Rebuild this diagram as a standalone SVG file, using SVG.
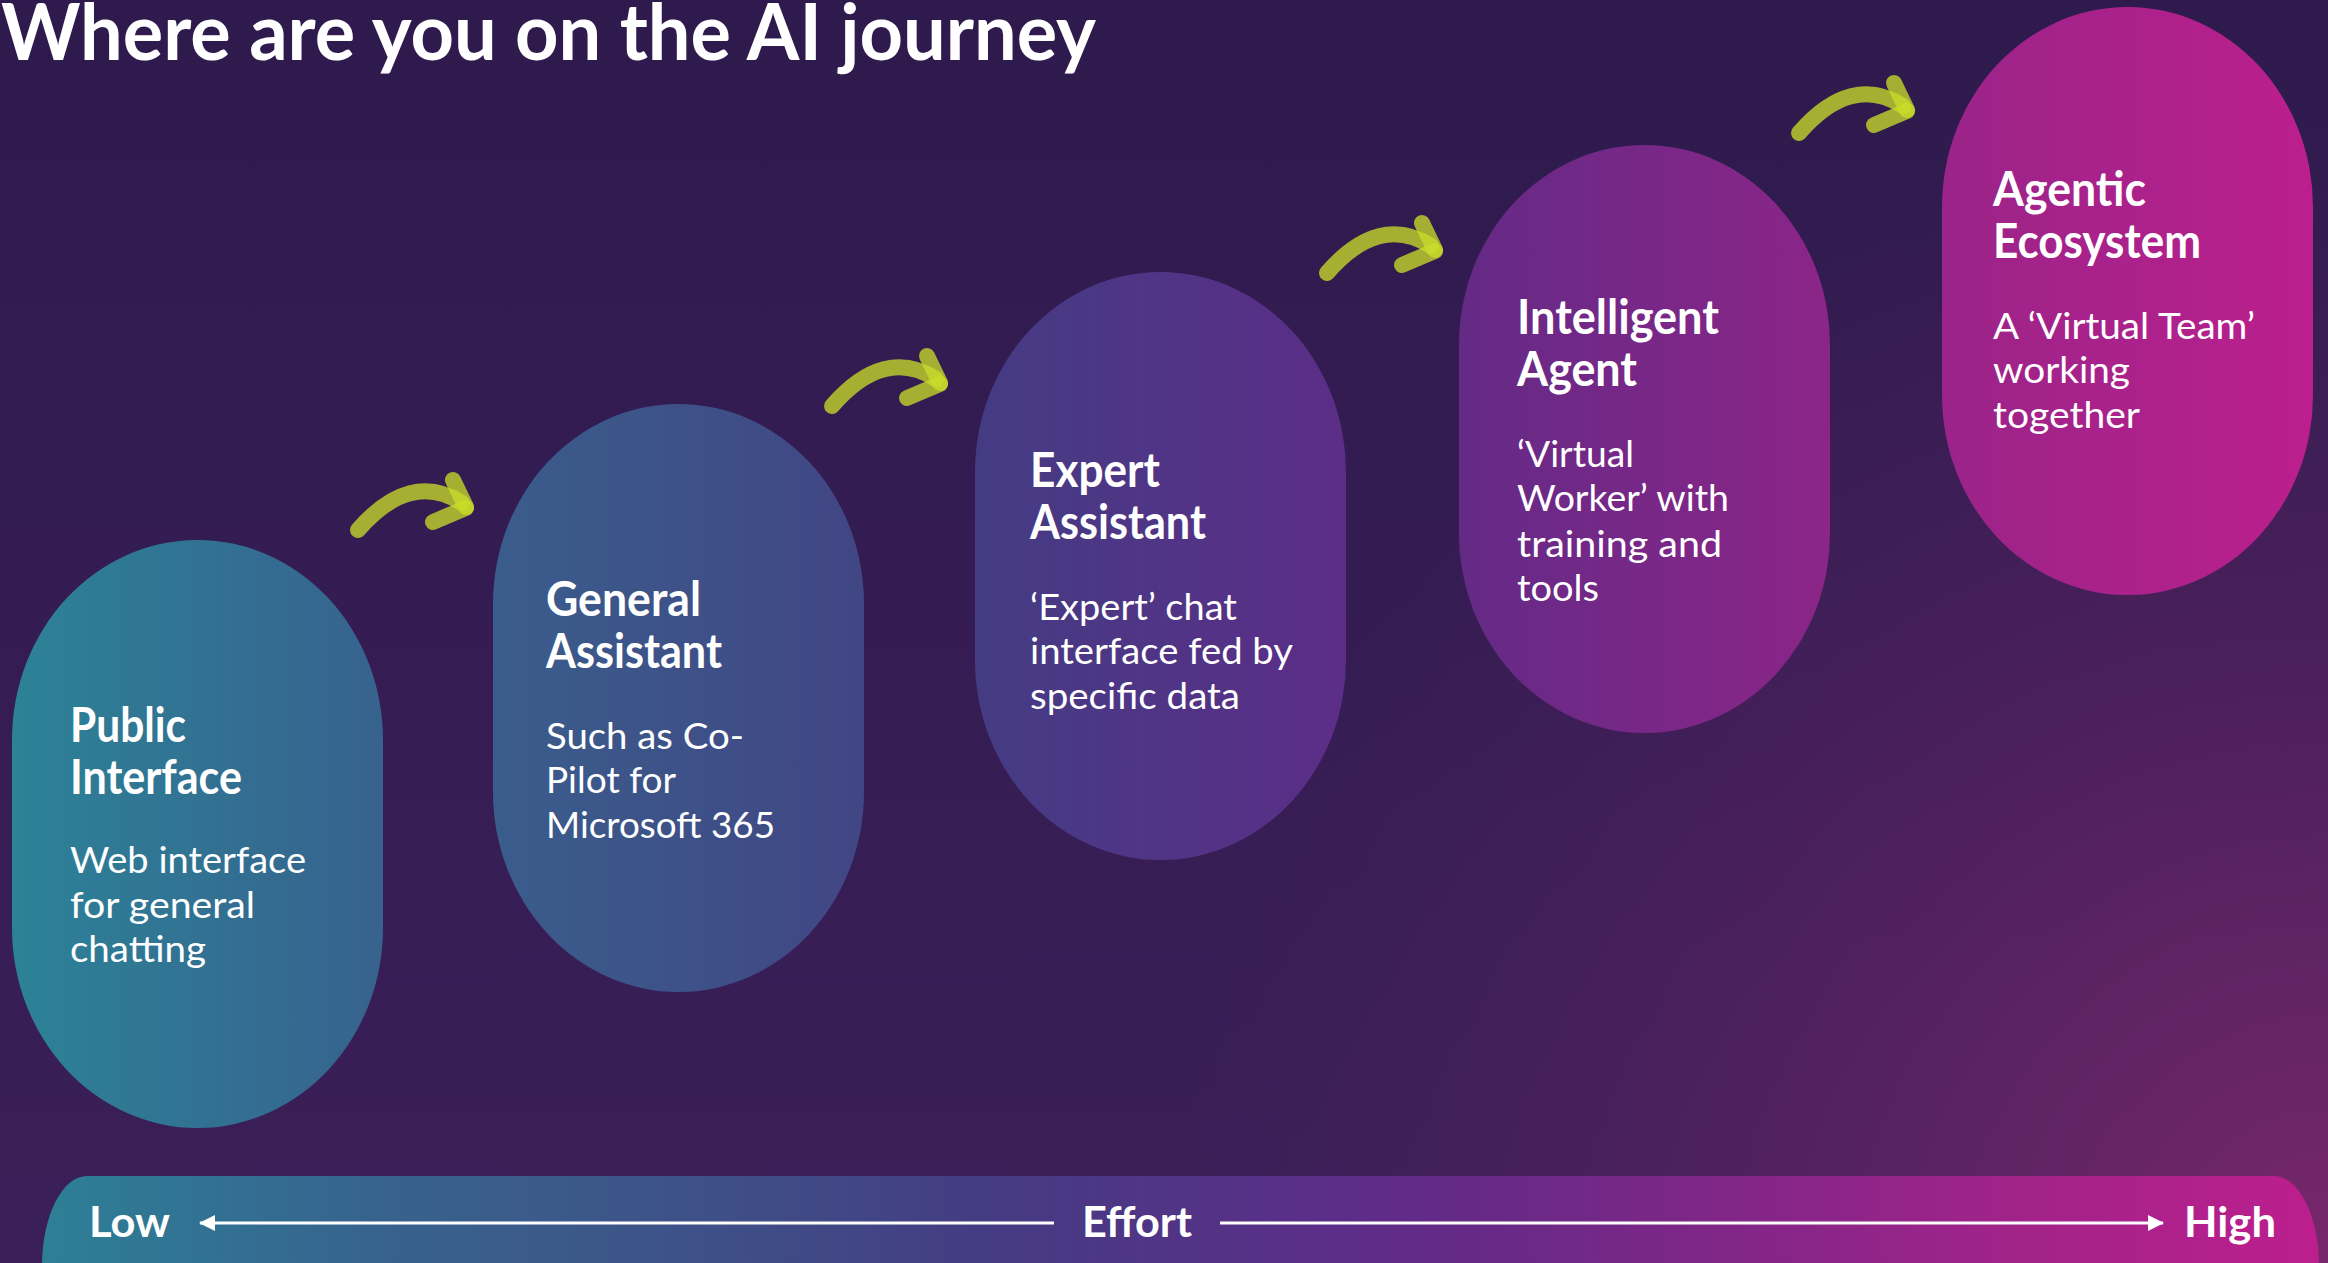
<svg xmlns="http://www.w3.org/2000/svg" width="2328" height="1263" viewBox="0 0 2328 1263">
<defs>
<linearGradient id="bg" x1="0" y1="0" x2="0" y2="1263" gradientUnits="userSpaceOnUse">
<stop offset="0" stop-color="#2e1a4d"/>
<stop offset="1" stop-color="#3b1f58"/>
</linearGradient>
<radialGradient id="glow" cx="2328" cy="1263" r="1150" gradientUnits="userSpaceOnUse">
<stop offset="0" stop-color="#7c286d" stop-opacity="0.95"/>
<stop offset="0.5" stop-color="#6a2466" stop-opacity="0.45"/>
<stop offset="1" stop-color="#5a2262" stop-opacity="0"/>
</radialGradient>
<linearGradient id="spectrum" x1="0" y1="0" x2="2328" y2="0" gradientUnits="userSpaceOnUse">
<stop offset="0.005" stop-color="#2c8297"/>
<stop offset="0.165" stop-color="#37628e"/>
<stop offset="0.212" stop-color="#3a5d8c"/>
<stop offset="0.371" stop-color="#414684"/>
<stop offset="0.419" stop-color="#443c83"/>
<stop offset="0.579" stop-color="#5c2d88"/>
<stop offset="0.627" stop-color="#642a86"/>
<stop offset="0.787" stop-color="#8c2588"/>
<stop offset="0.834" stop-color="#9a2489"/>
<stop offset="0.994" stop-color="#bc1f8d"/>
</linearGradient>
<marker id="ah" viewBox="0 0 16 16" refX="15" refY="8" markerWidth="16" markerHeight="16" markerUnits="userSpaceOnUse" orient="auto">
<path d="M0,0 L16,8 L0,16 Z" fill="#ffffff"/>
</marker>
<style>
.node-shape{fill:url(#spectrum)}
.node-title{font-family:Lato,"Open Sans","Liberation Sans",sans-serif;font-weight:700;font-size:47px;fill:#ffffff}
.node-desc{font-family:Lato,"Open Sans","Liberation Sans",sans-serif;font-weight:400;font-size:36px;fill:#ffffff}
.arrow{fill:none;stroke:#c9dc2a;stroke-opacity:0.77;stroke-width:16;stroke-linecap:round}
.axis-label{font-family:Lato,"Open Sans","Liberation Sans",sans-serif;font-weight:700;font-size:42px;fill:#ffffff}
.axis-line{stroke:#ffffff;stroke-width:3;fill:none}
.title{font-family:Lato,"Open Sans","Liberation Sans",sans-serif;font-weight:700;font-size:79px;fill:#ffffff}
</style>
</defs>

<rect width="2328" height="1263" fill="url(#bg)"/>
<rect width="2328" height="1263" fill="url(#glow)"/>

<text class="title" x="1" y="60" textLength="1095" lengthAdjust="spacingAndGlyphs">Where are you on the AI journey</text>

<g id="connectors">
<g id="arrow-1">
<path class="arrow" d="M358,530 Q410,470 462,503"/>
<path class="arrow" d="M453,480 L466,507"/>
<path class="arrow" d="M433,522 L466,508"/>
</g>
<g id="arrow-2" transform="translate(474,-124)">
<path class="arrow" d="M358,530 Q410,470 462,503"/>
<path class="arrow" d="M453,480 L466,507"/>
<path class="arrow" d="M433,522 L466,508"/>
</g>
<g id="arrow-3" transform="translate(969,-257)">
<path class="arrow" d="M358,530 Q410,470 462,503"/>
<path class="arrow" d="M453,480 L466,507"/>
<path class="arrow" d="M433,522 L466,508"/>
</g>
<g id="arrow-4" transform="translate(1441,-397)">
<path class="arrow" d="M358,530 Q410,470 462,503"/>
<path class="arrow" d="M453,480 L466,507"/>
<path class="arrow" d="M433,522 L466,508"/>
</g>
</g>

<g id="node-public-interface">
<rect class="node-shape" x="12" y="540" width="371" height="588" rx="185.5" ry="200"/>
<text class="node-title" x="70" y="742" textLength="116" lengthAdjust="spacingAndGlyphs">Public</text>
<text class="node-title" x="70" y="794" textLength="172" lengthAdjust="spacingAndGlyphs">Interface</text>
<text class="node-desc" x="70" y="873" textLength="236" lengthAdjust="spacingAndGlyphs">Web interface</text>
<text class="node-desc" x="70" y="918" textLength="185" lengthAdjust="spacingAndGlyphs">for general</text>
<text class="node-desc" x="70" y="962" textLength="136" lengthAdjust="spacingAndGlyphs">chatting</text>
</g>

<g id="node-general-assistant">
<rect class="node-shape" x="493" y="404" width="371" height="588" rx="185.5" ry="200"/>
<text class="node-title" x="546" y="616" textLength="155" lengthAdjust="spacingAndGlyphs">General</text>
<text class="node-title" x="546" y="668" textLength="176" lengthAdjust="spacingAndGlyphs">Assistant</text>
<text class="node-desc" x="546" y="749" textLength="198" lengthAdjust="spacingAndGlyphs">Such as Co-</text>
<text class="node-desc" x="546" y="793" textLength="130" lengthAdjust="spacingAndGlyphs">Pilot for</text>
<text class="node-desc" x="546" y="838" textLength="229" lengthAdjust="spacingAndGlyphs">Microsoft 365</text>
</g>

<g id="node-expert-assistant">
<rect class="node-shape" x="975" y="272" width="371" height="588" rx="185.5" ry="200"/>
<text class="node-title" x="1030" y="487" textLength="130" lengthAdjust="spacingAndGlyphs">Expert</text>
<text class="node-title" x="1030" y="539" textLength="176" lengthAdjust="spacingAndGlyphs">Assistant</text>
<text class="node-desc" x="1030" y="620" textLength="207" lengthAdjust="spacingAndGlyphs">‘Expert’ chat</text>
<text class="node-desc" x="1030" y="664" textLength="263" lengthAdjust="spacingAndGlyphs">interface fed by</text>
<text class="node-desc" x="1030" y="709" textLength="210" lengthAdjust="spacingAndGlyphs">specific data</text>
</g>

<g id="node-intelligent-agent">
<rect class="node-shape" x="1459" y="145" width="371" height="588" rx="185.5" ry="200"/>
<text class="node-title" x="1517" y="334" textLength="202" lengthAdjust="spacingAndGlyphs">Intelligent</text>
<text class="node-title" x="1517" y="386" textLength="120" lengthAdjust="spacingAndGlyphs">Agent</text>
<text class="node-desc" x="1517" y="467" textLength="117" lengthAdjust="spacingAndGlyphs">‘Virtual</text>
<text class="node-desc" x="1517" y="511" textLength="212" lengthAdjust="spacingAndGlyphs">Worker’ with</text>
<text class="node-desc" x="1517" y="557" textLength="205" lengthAdjust="spacingAndGlyphs">training and</text>
<text class="node-desc" x="1517" y="601" textLength="82" lengthAdjust="spacingAndGlyphs">tools</text>
</g>

<g id="node-agentic-ecosystem">
<rect class="node-shape" x="1942" y="7" width="371" height="588" rx="185.5" ry="200"/>
<text class="node-title" x="1993" y="206" textLength="153" lengthAdjust="spacingAndGlyphs">Agentic</text>
<text class="node-title" x="1993" y="258" textLength="208" lengthAdjust="spacingAndGlyphs">Ecosystem</text>
<text class="node-desc" x="1993" y="339" textLength="262" lengthAdjust="spacingAndGlyphs">A ‘Virtual Team’</text>
<text class="node-desc" x="1993" y="383" textLength="137" lengthAdjust="spacingAndGlyphs">working</text>
<text class="node-desc" x="1993" y="428" textLength="147" lengthAdjust="spacingAndGlyphs">together</text>
</g>

<g id="effort-axis">
<rect class="node-shape" x="42" y="1176" width="2277" height="180" rx="45" ry="90"/>
<line class="axis-line" x1="1054" y1="1223" x2="200" y2="1223" marker-end="url(#ah)"/>
<line class="axis-line" x1="1220" y1="1223" x2="2163" y2="1223" marker-end="url(#ah)"/>
<text class="axis-label" x="89" y="1237" textLength="81" lengthAdjust="spacingAndGlyphs">Low</text>
<text class="axis-label" x="1082" y="1237" textLength="110" lengthAdjust="spacingAndGlyphs">Effort</text>
<text class="axis-label" x="2184" y="1237" textLength="92" lengthAdjust="spacingAndGlyphs">High</text>
</g>
</svg>
